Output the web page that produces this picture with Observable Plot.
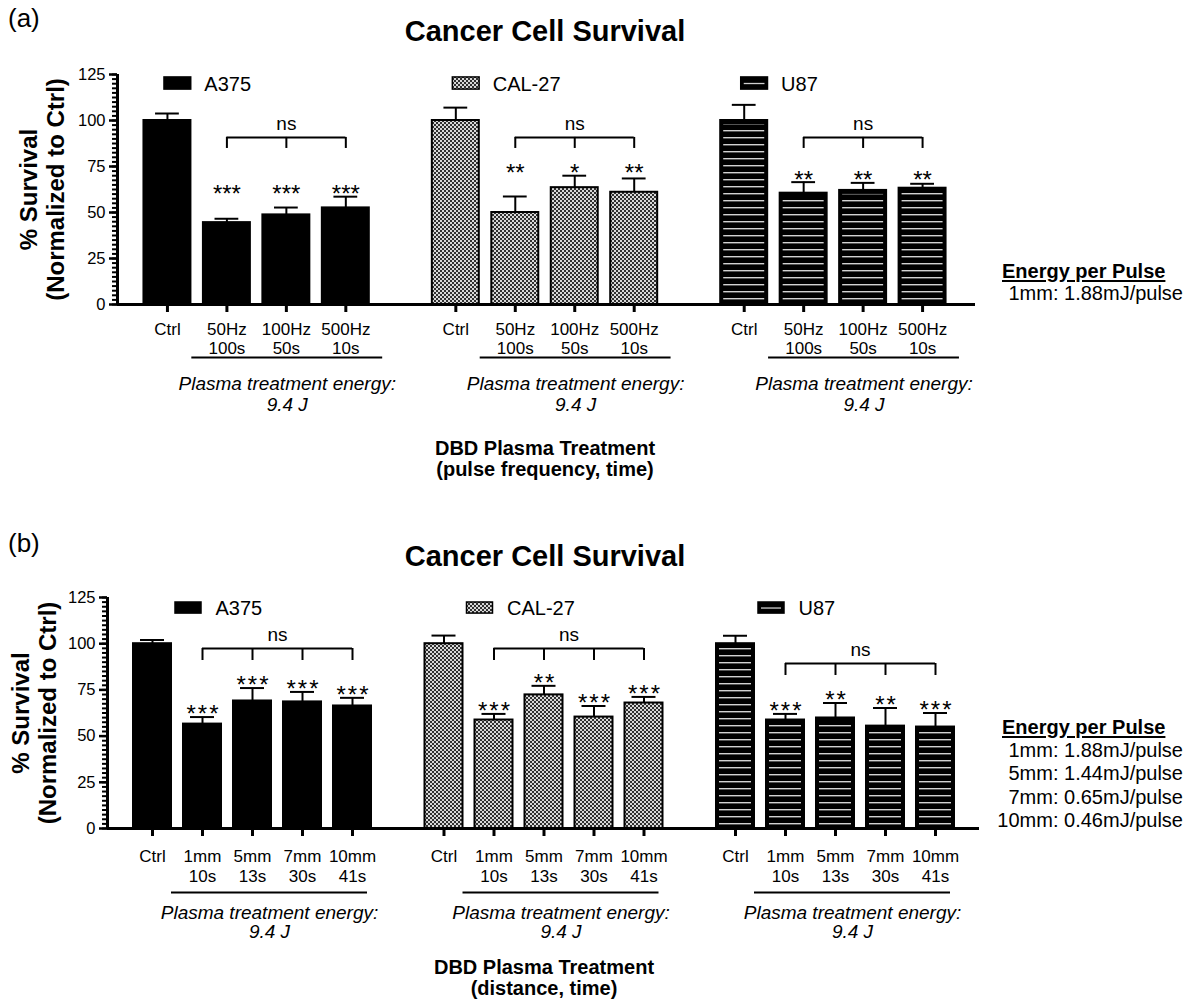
<!DOCTYPE html>
<html>
<head>
<meta charset="utf-8">
<script src="https://cdn.jsdelivr.net/npm/d3@7"></script>
<script src="https://cdn.jsdelivr.net/npm/@observablehq/plot@0.6"></script>
<style>
  body { margin: 0; background: #fff; }
  #page { position: relative; width: 1187px; height: 1005px; overflow: hidden;
          font-family: "Liberation Sans", Arial, Helvetica, sans-serif; color: #000; }
  .t { position: absolute; line-height: 1; white-space: nowrap; }
  .panel { position: absolute; left: 0; }
  .heading { font-weight: bold; text-decoration: underline; text-decoration-thickness: 2px; text-underline-offset: 2px; }
</style>
</head>
<body>
<svg width="0" height="0" style="position:absolute">
  <defs>
    <pattern id="checker" patternUnits="userSpaceOnUse" width="4" height="4">
      <rect width="4" height="4" fill="#d8d8d8"/>
      <rect width="2" height="2" fill="#303030"/>
      <rect x="2" y="2" width="2" height="2" fill="#303030"/>
    </pattern>
    <pattern id="hlines" patternUnits="userSpaceOnUse" width="8" height="7">
      <rect y="3" width="8" height="1.4" fill="#d2d2d2"/>
    </pattern>
  </defs>
</svg>
<div id="page"></div>
<script>
const FONT = '"Liberation Sans", Arial, Helvetica, sans-serif';

// ---- shared ----
const cellLines = ["A375", "CAL-27", "U87"];
const yTicks = [0, 25, 50, 75, 100, 125];
const panelTitle = "Cancer Cell Survival";
const yTitle = "% Survival\n(Normalized to Ctrl)";
const groupNote = "Plasma treatment energy:\n9.4 J";
const bracketLabel = "ns";
const energyHeading = "Energy per Pulse";

// ---- panel (a): pulse frequency, time ----
const freqLabels = ["Ctrl", "50Hz\n100s", "100Hz\n50s", "500Hz\n10s"];
const freqA375 = [100, 44.5, 48.7, 52.5];
const freqA375Sd = [3.8, 2.1, 4.0, 6.1];
const freqA375Sig = ["", "***", "***", "***"];
const freqCal27 = [100, 50, 63.5, 61];
const freqCal27Sd = [7, 8.7, 6.5, 7.5];
const freqCal27Sig = ["", "**", "*", "**"];
const freqU87 = [100, 60.5, 62, 63.2];
const freqU87Sd = [8.5, 6, 4.1, 2.4];
const freqU87Sig = ["", "**", "**", "**"];
const freqBracket = [90.8, 90.8, 90.8];
const freqAxisTitle = ["DBD Plasma Treatment", "(pulse frequency, time)"];
const freqEnergy = ["1mm: 1.88mJ/pulse"];

// ---- panel (b): distance, time ----
const distLabels = ["Ctrl", "1mm\n10s", "5mm\n13s", "7mm\n30s", "10mm\n41s"];
const distA375 = [100, 56.5, 69, 68.5, 66.3];
const distA375Sd = [2, 3.8, 7, 5.4, 4.4];
const distA375Sig = ["", "***", "***", "***", "***"];
const distCal27 = [100, 58.7, 72.3, 60.3, 67.9];
const distCal27Sd = [4.4, 3.3, 4.9, 6, 3.3];
const distCal27Sig = ["", "***", "**", "***", "***"];
const distU87 = [100, 58.7, 59.8, 55.4, 54.9];
const distU87Sd = [4.3, 3.3, 8.1, 9.8, 7.6];
const distU87Sig = ["", "***", "**", "**", "***"];
const distBracket = [97.4, 97.4, 89.3];
const distAxisTitle = ["DBD Plasma Treatment", "(distance, time)"];
const distEnergy = ["1mm: 1.88mJ/pulse", "5mm: 1.44mJ/pulse", "7mm: 0.65mJ/pulse", "10mm: 0.46mJ/pulse"];

const fills = {"A375": "black", "CAL-27": "url(#checker)", "U87": "black"};
const page = document.getElementById("page");

function addText(txt, css, cls = "") {
  const d = document.createElement("div");
  d.className = "t " + cls;
  d.textContent = txt;
  Object.assign(d.style, css);
  page.appendChild(d);
  return d;
}

function drawPanel(cfg) {
  const rows = [];
  cfg.series.forEach(([vals, sds, sigs], g) => vals.forEach((v, i) => rows.push({
    line: cellLines[g], g, i, pos: g * cfg.step + i, label: cfg.labels[i],
    value: v, top: v + sds[i], sig: sigs[i]
  })));
  const groups = cellLines.map((line, g) => {
    const gr = rows.filter(d => d.g === g);
    const treat = gr.filter(d => d.i > 0);
    return {line, g, ctrl: gr[0].pos, first: treat[0].pos, last: treat[treat.length - 1].pos,
            bracket: cfg.brackets[g], starLevel: d3.max(treat, d => d.top)};
  });
  const treated = rows.filter(d => d.i > 0);
  const hb = cfg.barW / 2;
  const marks = [];

  // bars, one mark per cell line so each keeps its own fill
  for (const line of cellLines) {
    const sub = rows.filter(d => d.line === line);
    marks.push(Plot.rectY(sub, {x1: d => d.pos - hb, x2: d => d.pos + hb, y1: 0, y2: "value",
      fill: fills[line], stroke: "black", strokeWidth: 2}));
    if (line === "U87") {
      marks.push(Plot.rectY(sub, {x1: d => d.pos - hb, x2: d => d.pos + hb, y1: 0, y2: "value",
        fill: "url(#hlines)", insetLeft: 3, insetRight: 3, insetTop: 4, insetBottom: 3}));
    }
  }

  // upper error bars
  marks.push(Plot.ruleX(rows, {x: "pos", y1: "value", y2: "top", strokeWidth: 2}));
  marks.push(Plot.ruleY(rows, {y: "top", x1: d => d.pos - cfg.cap, x2: d => d.pos + cfg.cap, strokeWidth: 2}));

  // axes
  marks.push(Plot.axisY(d3.range(0, 126, 2.5), {tickSize: 5, strokeWidth: 2, tickFormat: () => "", label: null}));
  marks.push(Plot.axisY(yTicks, {tickSize: 8, tickPadding: 4, strokeWidth: 2.5, fontSize: 16.5, label: null}));
  marks.push(Plot.axisX(rows.map(d => d.pos), {tickSize: 8, strokeWidth: 3, tickFormat: () => "", label: null}));
  marks.push(Plot.ruleY([0], {strokeWidth: 3}));
  marks.push(Plot.ruleX([cfg.domain[0]], {y1: 0, y2: 125, strokeWidth: 3}));

  // category labels under each bar
  marks.push(Plot.text(rows, {x: "pos", text: "label", frameAnchor: "bottom", lineAnchor: "top",
    dy: cfg.labelDy, fontSize: 17, lineHeight: cfg.labelLH}));

  // group underline and note
  marks.push(Plot.ruleY(groups, {y: 0, x1: d => d.first - cfg.ul[0], x2: d => d.last + cfg.ul[1],
    dy: cfg.ulDy, strokeWidth: 2}));
  marks.push(Plot.text(groups, {x: d => (d.first - cfg.ul[0] + d.last + cfg.ul[1]) / 2, text: () => groupNote,
    frameAnchor: "bottom", lineAnchor: "top", dy: cfg.noteDy, fontSize: 19, fontStyle: "italic", lineHeight: cfg.noteLH}));

  // significance stars
  marks.push(Plot.text(treated, {x: "pos", y: d => cfg.starByGroup ? groups[d.g].starLevel : d.top,
    text: d => d.sig.split("").join(cfg.starGap), dy: cfg.starDy, fontSize: 24}));

  // "ns" brackets across treatments
  marks.push(Plot.ruleY(groups, {y: "bracket", x1: "first", x2: "last", strokeWidth: 2}));
  marks.push(Plot.ruleX(treated, {x: "pos", y1: d => groups[d.g].bracket, y2: d => groups[d.g].bracket - cfg.drop, strokeWidth: 2}));
  marks.push(Plot.text(groups, {x: d => (d.first + d.last) / 2, y: "bracket", text: () => bracketLabel, dy: -14, fontSize: 19}));

  // in-plot legend swatches
  for (const gr of groups) {
    marks.push(Plot.rect([gr], {x1: d => d.ctrl + cfg.sw[0], x2: d => d.ctrl + cfg.sw[1],
      y1: cfg.swY[0], y2: cfg.swY[1], fill: fills[gr.line], stroke: "black", strokeWidth: 1.5}));
    if (gr.line === "U87") {
      marks.push(Plot.ruleY([gr], {y: (cfg.swY[0] + cfg.swY[1]) / 2, x1: d => d.ctrl + cfg.sw[0], x2: d => d.ctrl + cfg.sw[1],
        stroke: "#cfcfcf", strokeWidth: 1.3, insetLeft: 3, insetRight: 3}));
    }
  }
  marks.push(Plot.text(groups, {x: d => d.ctrl + cfg.legTx, y: cfg.legY, text: "line", textAnchor: "start", fontSize: 20}));

  // y-axis title
  marks.push(Plot.text([yTitle], {text: d => d, frameAnchor: "left", dx: cfg.yTitleX - cfg.marginLeft, rotate: -90,
    textAnchor: "middle", lineAnchor: "middle", fontSize: 24, fontWeight: "bold", lineHeight: 1.12}));

  const svg = Plot.plot({
    width: 1187, height: cfg.height,
    marginTop: cfg.marginTop, marginBottom: cfg.marginBottom,
    marginLeft: cfg.marginLeft, marginRight: cfg.marginRight,
    x: {domain: cfg.domain, axis: null},
    y: {domain: [0, 125], axis: null},
    style: {fontFamily: FONT, fontSize: "17px", color: "#000", background: "transparent", overflow: "visible"},
    marks
  });
  svg.classList.add("panel");
  svg.style.top = cfg.top + "px";
  page.appendChild(svg);
}

// panel (a)
drawPanel({
  labels: freqLabels,
  series: [[freqA375, freqA375Sd, freqA375Sig], [freqCal27, freqCal27Sd, freqCal27Sig], [freqU87, freqU87Sd, freqU87Sig]],
  brackets: freqBracket, step: 4.85, domain: [-0.84, 13.59],
  top: 50, height: 380, marginTop: 24, marginBottom: 126, marginLeft: 117, marginRight: 212,
  barW: 0.79, cap: 0.2, drop: 6, labelDy: 17, labelLH: 1.12,
  ul: [0.59, 0.62], ulDy: 53, noteDy: 71, noteLH: 1.1,
  starByGroup: true, starDy: -2, starGap: "",
  sw: [-0.05, 0.4], swY: [116.8, 123.4], legTx: 0.62, legY: 119.6, yTitleX: 41
});

// panel (b)
drawPanel({
  labels: distLabels,
  series: [[distA375, distA375Sd, distA375Sig], [distCal27, distCal27Sd, distCal27Sig], [distU87, distU87Sd, distU87Sig]],
  brackets: distBracket, step: 5.83, domain: [-0.9, 16.54],
  top: 575, height: 380, marginTop: 22, marginBottom: 127, marginLeft: 107, marginRight: 208,
  barW: 0.76, cap: 0.24, drop: 6.5, labelDy: 19, labelLH: 1.18,
  ul: [0.62, 0.3], ulDy: 64, noteDy: 77, noteLH: 1.0,
  starByGroup: false, starDy: -3, starGap: "\u200a",
  sw: [0.46, 0.98], swY: [116.3, 122.3], legTx: 1.26, legY: 119, yTitleX: 33
});

// headings, axis titles and the energy notes
addText("(a)", {left: "8px", top: "5px", fontSize: "26px"});
addText(panelTitle, {left: "545px", top: "17px", fontSize: "29px", fontWeight: "bold", transform: "translateX(-50%)"});
addText(freqAxisTitle[0], {left: "545px", top: "438px", fontSize: "20px", fontWeight: "bold", transform: "translateX(-50%)"});
addText(freqAxisTitle[1], {left: "545px", top: "459px", fontSize: "20px", fontWeight: "bold", transform: "translateX(-50%)"});
addText(energyHeading, {left: "1002px", top: "261px", fontSize: "20px"}, "heading");
freqEnergy.forEach((s, k) => addText(s, {right: "4px", top: (283 + k * 23.3) + "px", fontSize: "20px"}));

addText("(b)", {left: "8px", top: "530px", fontSize: "26px"});
addText(panelTitle, {left: "545px", top: "542px", fontSize: "29px", fontWeight: "bold", transform: "translateX(-50%)"});
addText(distAxisTitle[0], {left: "544px", top: "957px", fontSize: "20px", fontWeight: "bold", transform: "translateX(-50%)"});
addText(distAxisTitle[1], {left: "544px", top: "978px", fontSize: "20px", fontWeight: "bold", transform: "translateX(-50%)"});
addText(energyHeading, {left: "1002px", top: "717px", fontSize: "20px"}, "heading");
distEnergy.forEach((s, k) => addText(s, {right: "4px", top: (740 + k * 23.3) + "px", fontSize: "20px"}));
</script>
</body>
</html>
